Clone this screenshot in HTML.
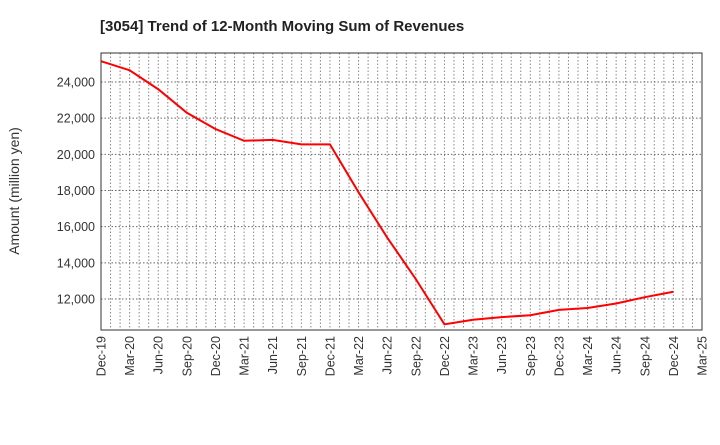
<!DOCTYPE html>
<html><head><meta charset="utf-8"><style>
body{margin:0;background:#fff;font-family:"Liberation Sans",sans-serif;}
</style></head><body>
<svg width="720" height="440" xmlns="http://www.w3.org/2000/svg">
<text x="100" y="31" font-size="15" font-weight="bold" fill="#222">[3054]  Trend of 12-Month Moving Sum of Revenues</text>
<text transform="translate(19,191) rotate(-90)" text-anchor="middle" font-size="14" fill="#333">Amount (million yen)</text>
<g id="grid"></g>
<g id="axes"></g>
<polyline id="line" fill="none" stroke="#ff0000" stroke-width="2"/>
<rect x="101" y="53" width="601" height="277" fill="none" stroke="#333"/>
</svg>
<script>
const categories=["Dec-19","Mar-20","Jun-20","Sep-20","Dec-20","Mar-21","Jun-21","Sep-21","Dec-21","Mar-22","Jun-22","Sep-22","Dec-22","Mar-23","Jun-23","Sep-23","Dec-23","Mar-24","Jun-24","Sep-24","Dec-24","Mar-25"];
const values=[25150,24650,23600,22300,21400,20750,20800,20550,20550,17900,15400,13100,10600,10850,11000,11100,11400,11500,11750,12100,12400];
const yTicks=[12000,14000,16000,18000,20000,22000,24000];
const L=101,R=702,T=53,B=330,yMin=10286,yMax=25604;
const xs=i=>L+i*(R-L)/(categories.length-1);
const ys=v=>B-(v-yMin)/(yMax-yMin)*(B-T);
const NS="http://www.w3.org/2000/svg";
const grid=document.getElementById('grid'),axes=document.getElementById('axes');
const nm=(categories.length-1)*3;
for(let m=1;m<nm;m++){const x=L+m*(R-L)/nm;const l=document.createElementNS(NS,'line');
l.setAttribute('x1',x);l.setAttribute('x2',x);l.setAttribute('y1',T);l.setAttribute('y2',B);
l.setAttribute('stroke','#888');l.setAttribute('stroke-dasharray','1.5,2');


grid.appendChild(l);}
yTicks.forEach(v=>{const y=ys(v);const l=document.createElementNS(NS,'line');
l.setAttribute('x1',L);l.setAttribute('x2',R);l.setAttribute('y1',y);l.setAttribute('y2',y);
l.setAttribute('stroke','#666');l.setAttribute('stroke-dasharray','1.5,2');


grid.appendChild(l);
const t=document.createElementNS(NS,'text');t.setAttribute('x',L-6);t.setAttribute('y',y+4.5);
t.setAttribute('text-anchor','end');t.setAttribute('font-size','12.5');t.setAttribute('fill','#333');
t.textContent=v.toLocaleString('en-US');


axes.appendChild(t);});
categories.forEach((c,i)=>{const x=xs(i);const t=document.createElementNS(NS,'text');
t.setAttribute('transform',`translate(${x+4.5},${B+6}) rotate(-90)`);t.setAttribute('text-anchor','end');
t.setAttribute('font-size','12.5');t.setAttribute('fill','#333');t.textContent=c;


axes.appendChild(t);});
document.getElementById('line').setAttribute('points',values.map((v,i)=>xs(i)+','+ys(v)).join(' '));
</script>
</body></html>
